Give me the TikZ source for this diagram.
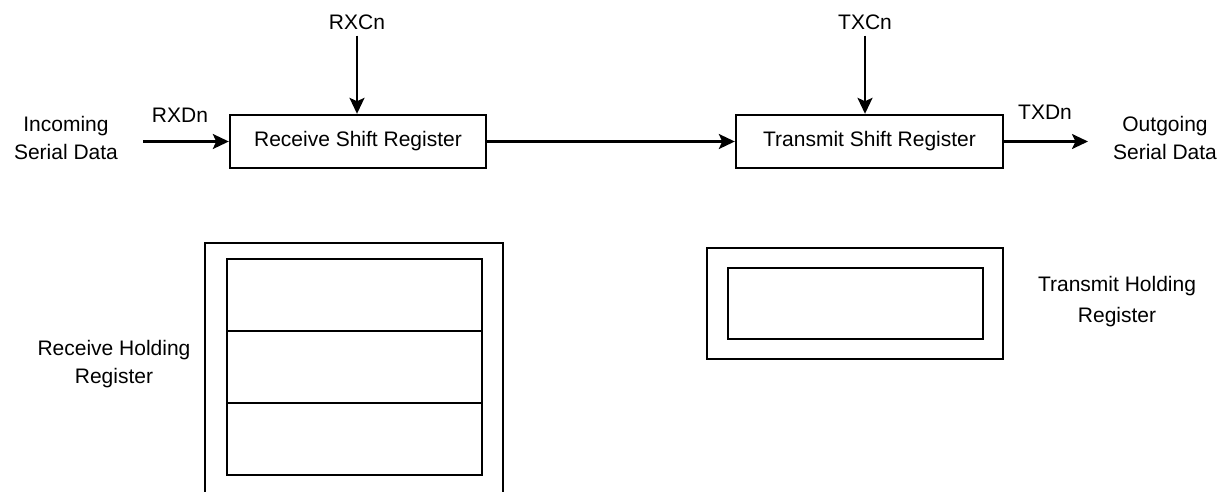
\documentclass[tikz,border=0pt]{standalone}
\usepackage{fontspec}
\setmainfont{Liberation Sans}
\usetikzlibrary{positioning,arrows.meta}

\begin{document}
\begin{tikzpicture}[x=1pt,y=-1pt,
      reg/.style={draw,line width=2.4pt,minimum width=256pt,minimum height=53pt,inner sep=0pt,font=\fontsize{21}{28}\selectfont},
      lbl/.style={align=center,inner sep=2pt,font=\fontsize{21}{28}\selectfont},
      hold/.style={draw,line width=2.4pt,inner sep=0pt},
      sig/.style={-{Stealth[length=16pt,width=15pt,inset=3.5pt]},line width=2.4pt}
    ]
      \useasboundingbox (0,0) rectangle (1223,491);
      \clip (0,0) rectangle (1223,491);
      % shift registers
      \node[reg] (rsr) at (358,141.5) {Receive Shift Register};
      \node[reg,minimum width=267pt] (tsr) at (869.5,141.5) {Transmit Shift Register};
      \node[lbl] (rxcn) at (357,22) {RXCn};
      \node[lbl] (txcn) at (865,22) {TXCn};
      \node[lbl] (rxdn) at (180,115) {RXDn};
      \node[lbl] (txdn) at (1045,112) {TXDn};
      \node[lbl] (incoming) at (66,138) {Incoming\\Serial Data};
      \node[lbl] (outgoing) at (1165,138) {Outgoing\\Serial Data};
      \coordinate (rxin) at (143,141.5);
      \coordinate (txout) at (1088,141.5);
      \draw[sig,shorten <=4pt] (rxcn.south) -- (rxcn.south |- rsr.north);
      \draw[sig,shorten <=4pt] (txcn.south) -- (txcn.south |- tsr.north);
      \draw[sig] (rxin) -- (rsr);
      \draw[sig] (rsr) -- (tsr);
      \draw[sig] (tsr) -- (txout);
      % holding registers
      \node[hold,minimum width=298pt,minimum height=280pt] (rhouter) at (354,383) {};
      \node[hold,minimum width=255pt,minimum height=72pt] (rh1) at (354.5,295) {};
      \node[hold,minimum width=255pt,minimum height=72pt] (rh2) at (354.5,367) {};
      \node[hold,minimum width=255pt,minimum height=72pt] (rh3) at (354.5,439) {};
      \node[lbl] (rhlbl) at (114,364) {Receive Holding\\Register};
      \node[hold,minimum width=296pt,minimum height=111pt] (thouter) at (855,303.5) {};
      \node[hold,minimum width=255pt,minimum height=71pt] (thinner) at (855.5,303.5) {};
      \node[lbl,font=\fontsize{21}{31}\selectfont] (thlbl) at (1117,302) {Transmit Holding\\Register};
    \end{tikzpicture}
\end{document}
